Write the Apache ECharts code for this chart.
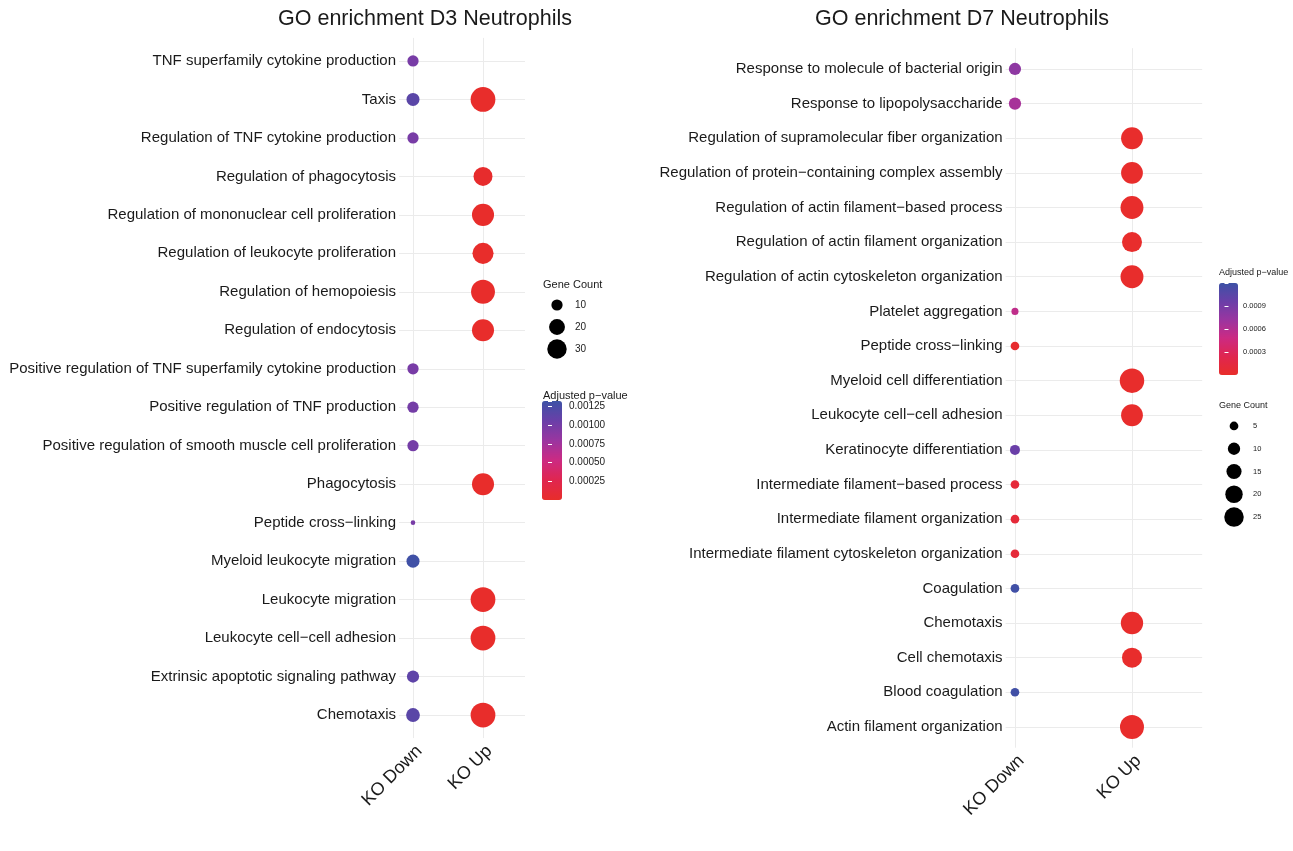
<!DOCTYPE html>
<html>
<head>
<meta charset="utf-8">
<script src="https://cdn.jsdelivr.net/npm/echarts@6/dist/echarts.min.js"></script>
<style>
  html, body { margin: 0; padding: 0; background: #fff; }
  #container { width: 1293px; height: 851px; }
</style>
</head>
<body>
<div id="container"></div>
<script>
// ---- data: D3 panel ----
var d3Terms = [
  "TNF superfamily cytokine production",
  "Taxis",
  "Regulation of TNF cytokine production",
  "Regulation of phagocytosis",
  "Regulation of mononuclear cell proliferation",
  "Regulation of leukocyte proliferation",
  "Regulation of hemopoiesis",
  "Regulation of endocytosis",
  "Positive regulation of TNF superfamily cytokine production",
  "Positive regulation of TNF production",
  "Positive regulation of smooth muscle cell proliferation",
  "Phagocytosis",
  "Peptide cross\u2212linking",
  "Myeloid leukocyte migration",
  "Leukocyte migration",
  "Leukocyte cell\u2212cell adhesion",
  "Extrinsic apoptotic signaling pathway",
  "Chemotaxis"
];
var d3DownCount = [6, 8, 6, null, null, null, null, null, 6, 6, 6, null, 1, 8, null, null, 7, 9];
var d3DownPadj = [0.00098, 0.00115, 0.00098, null, null, null, null, null, 0.00098, 0.00100, 0.00100, null, 0.00098, 0.00130, null, null, 0.00112, 0.00115];
var d3UpCount = [null, 29, null, 17, 23, 21, 27, 23, null, null, null, 23, null, null, 29, 29, null, 29];
var d3UpPadj = [null, 0.00001, null, 0.00002, 0.00001, 0.00001, 0.00001, 0.00001, null, null, null, 0.00001, null, null, 0.00001, 0.00001, null, 0.00001];

// ---- data: D7 panel ----
var d7Terms = [
  "Response to molecule of bacterial origin",
  "Response to lipopolysaccharide",
  "Regulation of supramolecular fiber organization",
  "Regulation of protein\u2212containing complex assembly",
  "Regulation of actin filament\u2212based process",
  "Regulation of actin filament organization",
  "Regulation of actin cytoskeleton organization",
  "Platelet aggregation",
  "Peptide cross\u2212linking",
  "Myeloid cell differentiation",
  "Leukocyte cell\u2212cell adhesion",
  "Keratinocyte differentiation",
  "Intermediate filament\u2212based process",
  "Intermediate filament organization",
  "Intermediate filament cytoskeleton organization",
  "Coagulation",
  "Chemotaxis",
  "Cell chemotaxis",
  "Blood coagulation",
  "Actin filament organization"
];
var d7DownCount = [6, 6, null, null, null, null, null, 2, 3, null, null, 4, 3, 3, 3, 3, null, null, 3, null];
var d7DownPadj = [0.00078, 0.00066, null, null, null, null, null, 0.00054, 0.00003, null, null, 0.00096, 0.00010, 0.00010, 0.00010, 0.00118, null, null, 0.00118, null];
var d7UpCount = [null, null, 19, 19, 21, 16, 21, null, null, 24, 19, null, null, null, null, null, 20, 16, null, 23];
var d7UpPadj = [null, null, 0.00001, 0.00001, 0.00001, 0.00001, 0.00001, null, null, 0.00001, 0.00001, null, null, null, null, null, 0.00001, 0.00001, null, 0.00001];

var groups = ["KO Down", "KO Up"];
var d3SizeBreaks = [10, 20, 30];
var d7SizeBreaks = [5, 10, 15, 20, 25];
var d3PadjMax = 0.00132;
var d7PadjMax = 0.0012;

var gradient = ['#e82d2a', '#e0264f', '#cc2a82', '#9a35a0', '#6a3fa8', '#3d52a6'];
var FONT = 'Liberation Sans, Arial, Helvetica, sans-serif';
var TXT = '#1a1a1a';

// rows are indexed 0..n-1 on a value axis (ggplot-like 0.6 padding at both ends)
function buildPoints(terms, downC, downP, upC, upP) {
    var pts = [];
    terms.forEach(function(t, i) {
        if (downC[i] != null) pts.push([0, i, downP[i], downC[i], t]);
        if (upC[i] != null) pts.push([1, i, upP[i], upC[i], t]);
    });
    return pts;
}

// grid lines through the row centres and the two group columns
function gridLines(terms) {
    var lines = terms.map(function(t, i) { return {yAxis: i}; });
    lines.push({xAxis: 0});
    lines.push({xAxis: 1});
    return {
        silent: true, symbol: 'none', z: 1, animation: false,
        label: {show: false}, lineStyle: {color: '#ebebeb', width: 1, type: 'solid'},
        data: lines
    };
}

function onStep(v) {
    var r = Math.round(v);
    return Math.abs(v - r) < 1e-6 ? r : null;
}

function mainX(gridIndex, min, interval) {
    return {
        type: 'value', gridIndex: gridIndex, min: min, max: 1.6, interval: interval,
        axisLine: {show: false}, axisTick: {show: false}, splitLine: {show: false},
        axisLabel: {
            rotate: 45, margin: 4, align: 'right', verticalAlign: 'top',
            fontSize: 18, color: TXT, fontFamily: FONT,
            formatter: function(v) {
                var r = onStep(v);
                return (r === 0 || r === 1) ? groups[r] : '';
            }
        }
    };
}

function mainY(gridIndex, terms) {
    return {
        type: 'value', gridIndex: gridIndex, inverse: true,
        min: -0.6, max: terms.length - 1 + 0.6, interval: 0.2,
        axisLine: {show: false}, axisTick: {show: false}, splitLine: {show: false},
        axisLabel: {
            margin: 3, fontSize: 15, color: TXT, fontFamily: FONT,
            formatter: function(v) {
                var r = onStep(v);
                return (r !== null && r >= 0 && r < terms.length) ? terms[r] : '';
            }
        }
    };
}

function hiddenX(gridIndex) {
    return {type: 'value', gridIndex: gridIndex, min: -1, max: 1, show: false};
}

function colorbarY(gridIndex, max, interval, digits, fontSize, margin) {
    return {
        type: 'value', gridIndex: gridIndex, min: 0, max: max, interval: interval, position: 'right', z: 10,
        axisLine: {show: false}, splitLine: {show: false},
        axisTick: {show: true, inside: true, length: 4, lineStyle: {color: '#ffffff', width: 1}},
        axisLabel: {
            margin: margin, fontSize: fontSize, color: TXT, fontFamily: FONT,
            formatter: function(v) {
                var k = v / interval;
                if (v <= 0 || v >= max - 1e-9 || Math.abs(k - Math.round(k)) > 1e-6) return '';
                return v.toFixed(digits);
            }
        }
    };
}

function sizeY(gridIndex, breaks, fontSize, margin) {
    return {
        type: 'category', gridIndex: gridIndex, data: breaks.map(String), inverse: true, position: 'right',
        axisLine: {show: false}, axisTick: {show: false}, splitLine: {show: false},
        axisLabel: {margin: margin, fontSize: fontSize, color: TXT, fontFamily: FONT}
    };
}

function titleText(text, left, top, size) {
    return {text: text, left: left, top: top, padding: 0,
            textStyle: {fontSize: size, fontWeight: 'normal', color: TXT, fontFamily: FONT}};
}

var myChart = echarts.init(document.getElementById('container'), null, {renderer: 'canvas'});
myChart.setOption({
    backgroundColor: '#ffffff',
    animation: false,
    title: [
        titleText('GO enrichment D3 Neutrophils', 278, 8, 21.5),
        titleText('GO enrichment D7 Neutrophils', 815, 8, 21.5),
        titleText('Gene Count', 543, 279, 11),
        titleText('Adjusted p\u2212value', 543, 390, 11),
        titleText('Adjusted p\u2212value', 1219, 268, 9),
        titleText('Gene Count', 1219, 401, 9)
    ],
    grid: [
        {left: 399, top: 37.9, width: 126, height: 700.2},
        {left: 1005.6, top: 48.2, width: 196.6, height: 699.5},
        {left: 550, top: 294, width: 14, height: 66},
        {left: 1227, top: 414.6, width: 14, height: 113.8},
        {left: 542, top: 401, width: 20, height: 99},
        {left: 1219, top: 283, width: 19, height: 92}
    ],
    xAxis: [
        mainX(0, -0.2, 0.2),
        mainX(1, -0.08, 0.04),
        hiddenX(2),
        hiddenX(3),
        hiddenX(4),
        hiddenX(5)
    ],
    yAxis: [
        mainY(0, d3Terms),
        mainY(1, d7Terms),
        sizeY(2, d3SizeBreaks, 10, 11),
        sizeY(3, d7SizeBreaks, 7.5, 12),
        colorbarY(4, d3PadjMax, 0.00025, 5, 10, 7),
        colorbarY(5, d7PadjMax, 0.0003, 4, 7.5, 5)
    ],
    visualMap: [
        {
            type: 'continuous', seriesIndex: 1, dimension: 2, min: 0, max: d3PadjMax,
            left: 542, top: 401, itemWidth: 20, itemHeight: 99, padding: 0,
            calculable: false, text: null, showLabel: false, z: 4,
            inRange: {color: gradient}
        },
        {
            type: 'continuous', seriesIndex: 3, dimension: 2, min: 0, max: d7PadjMax,
            left: 1219, top: 283, itemWidth: 19, itemHeight: 92, padding: 0,
            calculable: false, text: null, showLabel: false, z: 4,
            inRange: {color: gradient}
        }
    ],
    series: [
        {
            type: 'scatter', xAxisIndex: 0, yAxisIndex: 0, data: [], silent: true, z: 1,
            markLine: gridLines(d3Terms)
        },
        {
            type: 'scatter', xAxisIndex: 0, yAxisIndex: 0, z: 3, silent: true,
            symbolSize: function(v) { return 4.6 * Math.sqrt(v[3]); },
            itemStyle: {opacity: 1},
            data: buildPoints(d3Terms, d3DownCount, d3DownPadj, d3UpCount, d3UpPadj)
        },
        {
            type: 'scatter', xAxisIndex: 1, yAxisIndex: 1, data: [], silent: true, z: 1,
            markLine: gridLines(d7Terms)
        },
        {
            type: 'scatter', xAxisIndex: 1, yAxisIndex: 1, z: 3, silent: true,
            symbolSize: function(v) { return 5 * Math.sqrt(v[3]); },
            itemStyle: {opacity: 1},
            data: buildPoints(d7Terms, d7DownCount, d7DownPadj, d7UpCount, d7UpPadj)
        },
        {
            type: 'scatter', xAxisIndex: 2, yAxisIndex: 2, silent: true,
            symbolSize: function(v) { return 3.55 * Math.sqrt(v[2]); },
            itemStyle: {color: '#000000', opacity: 1},
            data: d3SizeBreaks.map(function(b) { return [0, String(b), b]; })
        },
        {
            type: 'scatter', xAxisIndex: 3, yAxisIndex: 3, silent: true,
            symbolSize: function(v) { return 3.9 * Math.sqrt(v[2]); },
            itemStyle: {color: '#000000', opacity: 1},
            data: d7SizeBreaks.map(function(b) { return [0, String(b), b]; })
        }
    ]
});
</script>
</body>
</html>
